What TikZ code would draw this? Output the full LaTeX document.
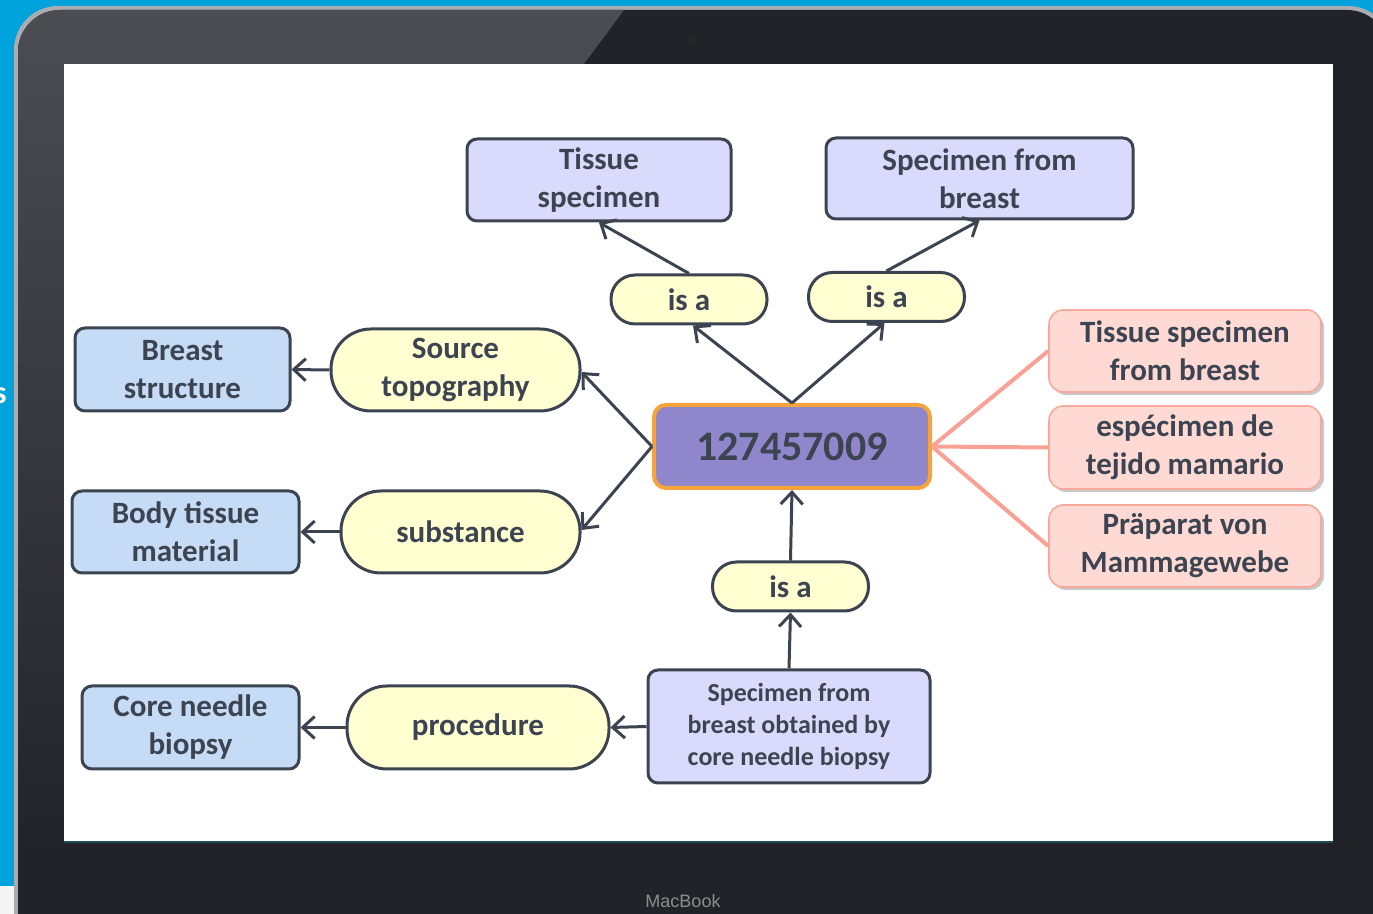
\documentclass[tikz,border=0pt]{standalone}
\usepackage{fontspec}
\setmainfont{Carlito}
\newfontfamily\macfont{Liberation Sans}
\usetikzlibrary{arrows.meta,shadows,calc}
\definecolor{bluebg}{HTML}{00A2DB}
\definecolor{rim}{HTML}{A9ADB2}
\definecolor{bezel}{HTML}{222328}
\definecolor{gloss}{HTML}{4C4D52}
\definecolor{textc}{HTML}{3D4451}
\definecolor{linec}{HTML}{3D4451}
\definecolor{lav}{HTML}{DADAFC}
\definecolor{skyb}{HTML}{C6DBF6}
\definecolor{ylw}{HTML}{FFFFD1}
\definecolor{purp}{HTML}{9086CB}
\definecolor{orng}{HTML}{F5A33A}
\definecolor{pinkf}{HTML}{FFDAD4}
\definecolor{pinkb}{HTML}{F9A99C}
\definecolor{pinkl}{HTML}{F9A195}
\definecolor{screenline}{HTML}{1B4A5A}
\begin{document}
\begin{tikzpicture}[x=0.5pt,y=-0.5pt,
  base/.style={font=\bfseries\fontsize{15.5}{19}\selectfont, text=textc, align=center, inner sep=0pt, line width=1.5pt},
  conc/.style={base, draw=linec, fill=lav, rounded corners=5pt},
  attr/.style={base, draw=linec, fill=skyb, rounded corners=5pt},
  rel/.style={base, draw=linec, fill=ylw, rounded corners=20pt},
  isarel/.style={base, draw=linec, fill=ylw, rounded corners=12pt, minimum width=78pt, minimum height=24.5pt},
  syn/.style={base, draw=pinkb, line width=0.8pt, fill=pinkf, rounded corners=7pt,
     minimum width=136pt, minimum height=41pt,
     drop shadow={shadow xshift=1.5pt, shadow yshift=-1.5pt, opacity=0.3, fill=black!70}},
  root/.style={base, draw=orng, line width=2pt, fill=purp, rounded corners=6pt,
     font=\bfseries\fontsize{21}{24}\selectfont},
  arr/.style={line width=1.5pt, draw=linec, -{Straight Barb[length=6pt,width=11pt]}},
  synline/.style={line width=2pt, draw=pinkl}
]
\useasboundingbox (0,0) rectangle (1373,914);
\clip (0,0) rectangle (1373,914);
% background
\fill[bluebg] (0,0) rectangle (1373,914);
\fill[white!92!gray] (0,886) rectangle (16,914);
\node[text=white, font=\bfseries\fontsize{16}{19}\selectfont, anchor=east, inner sep=0pt] (cut) at (7,396) {s};
% laptop bezel
\fill[rim, rounded corners=22pt] (14,6) rectangle (1392,980);
\fill[bezel, rounded corners=21pt] (18,10) rectangle (1389,980);
\begin{scope}
  \clip[rounded corners=21pt] (18,10) rectangle (1389,980);
  \shade[top color=gloss, bottom color=bezel] (0,10) -- (624,10) -- (584,64) -- (64,64) -- (64,860) -- (0,860) -- cycle;
\end{scope}
\fill[black!85] (693,40) circle (4);
\node[font=\macfont\fontsize{9}{9}\selectfont, text=black!45, inner sep=0pt] (mac) at (683,901) {MacBook};
% screen
\fill[white] (64,64) rectangle (1333,842);
\draw[screenline, line width=1pt] (64,842) -- (1333,842);

% nodes
\node[conc, minimum width=132pt, minimum height=41pt] (ts) at (599,180) {Tissue\\specimen};
\node[conc, minimum width=153.5pt, minimum height=40.5pt] (sfb) at (979.5,178.5) {Specimen from\\breast};
\node[isarel] (isa1) at (689,299.5) {is a};
\node[isarel] (isa2) at (886.5,297) {is a};
\node[attr, minimum width=107.5pt, minimum height=41.5pt] (bs) at (182.5,369.5) {Breast\\structure};
\node[rel, minimum width=124.5pt, minimum height=41pt] (st) at (455.5,370) {Source\\topography};
\node[root, minimum width=138pt, minimum height=41.5pt] (c) at (792,446.5) {127457009};
\node[attr, minimum width=113.5pt, minimum height=41pt] (bt) at (185.5,532) {Body tissue\\material};
\node[rel, minimum width=119.5pt, minimum height=41pt] (sub) at (460.5,532) {substance};
\node[syn] (p1) at (1185,351) {Tissue specimen\\from breast};
\node[syn, minimum height=41.5pt] (p2) at (1185,447.5) {espécimen de\\tejido mamario};
\node[syn] (p3) at (1185,546) {Präparat von\\Mammagewebe};
\node[isarel] (isa3) at (790.5,586.5) {is a};
\node[conc, minimum width=141pt, minimum height=56.5pt, font=\bfseries\fontsize{13}{16}\selectfont] (cnbs) at (789,726.5) {Specimen from\\breast obtained by\\core needle biopsy};
\node[rel, minimum width=131pt, minimum height=41.5pt] (proc) at (478,727.5) {procedure};
\node[attr, minimum width=108.5pt, minimum height=41.5pt] (cnb) at (190.5,727.5) {Core needle\\biopsy};

% connectors
\draw[arr] (isa1.north) -- (ts.south);
\draw[arr] (isa2.north) -- (sfb.south);
\draw[arr] (c.north) -- ($(isa1.south)+(4,0)$);
\draw[arr] (c.north) -- ($(isa2.south)+(-2,0)$);
\draw[arr] (c.west) -- ($(st.east)+(0,2)$);
\draw[arr] (c.west) -- ($(sub.east)+(0,-2)$);
\draw[arr] (st.west) -- (bs.east);
\draw[arr] (sub.west) -- (bt.east);
\draw[arr] (isa3.north) -- (c.south);
\draw[arr] (cnbs.north) -- (isa3.south);
\draw[arr] (cnbs.west) -- (proc.east);
\draw[arr] (proc.west) -- (cnb.east);
\draw[synline] (c.east) -- (p1.west);
\draw[synline] (c.east) -- (p2.west);
\draw[synline] (c.east) -- (p3.west);
\end{tikzpicture}
\end{document}
